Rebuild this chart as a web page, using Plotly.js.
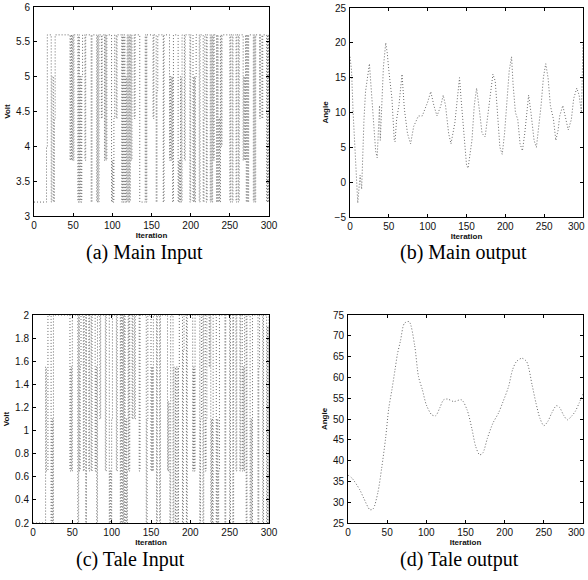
<!DOCTYPE html>
<html>
<head>
<meta charset="utf-8">
<script src="https://cdn.plot.ly/plotly-3.0.1.min.js"></script>
<style>html,body{margin:0;padding:0;background:#fff}#chart{width:588px;height:580px}</style>
</head>
<body>
<div id="chart"></div>
<script>
// (a) Main input: step signal (iteration where level changes, level held until next change)
const mainInIter = [0,16,17,22,23,25,26,27,46,47,48,49,50,51,56,57,58,59,60,61,62,65,66,73,74,80,81,82,83,86,87,90,91,92,93,99,100,101,102,103,105,106,112,113,114,115,116,117,118,119,120,121,122,123,124,125,128,129,135,142,143,144,152,153,156,157,158,165,166,173,174,175,176,177,178,184,185,186,187,188,189,192,193,199,200,203,204,205,206,207,211,212,216,217,218,220,221,225,226,227,228,229,230,233,234,235,236,237,238,239,240,250,251,253,254,258,259,261,262,267,268,269,270,271,272,273,274,280,281,282,283,288,289,291,292,297,298,299,300];
const mainInVolt = [3.2,4.0,5.6,3.2,5.0,3.2,4.4,5.6,3.8,5.6,3.8,5.6,3.8,5.6,3.2,5.6,3.2,5.0,3.2,5.0,5.6,3.8,5.6,3.2,5.6,3.2,5.6,3.2,5.6,4.4,5.6,3.8,5.6,3.8,5.6,3.2,3.8,3.2,4.4,5.6,4.4,5.6,3.2,5.6,3.2,5.6,3.2,5.0,3.2,5.6,3.2,5.6,3.2,5.6,3.8,5.6,4.4,5.6,3.2,5.6,3.2,5.6,4.4,5.6,3.2,4.8,5.6,3.2,5.6,3.8,5.0,3.8,5.0,3.2,5.6,3.2,3.8,3.2,5.0,3.2,5.6,3.8,5.6,3.2,5.6,3.2,5.0,3.2,5.0,5.6,3.2,5.6,3.2,4.4,5.6,3.2,5.6,3.2,5.6,3.2,5.6,3.8,5.6,3.2,5.6,3.2,4.4,3.2,5.6,4.0,5.6,3.2,5.6,3.2,5.6,3.2,5.6,3.2,5.6,3.8,5.0,3.8,5.6,3.2,5.6,3.2,5.6,3.2,5.6,3.2,5.6,4.4,5.6,4.4,5.6,3.2,5.6,3.2,5.6];

// (b) Main output
const mainOutIter = [0,2,4,6,8,10,13,15,18,20,25,28,33,35,38,39,43,46,48,50,54,57,58,60,63,67,70,74,78,82,88,93,100,104,108,112,117,120,123,127,130,135,138,141,143,147,150,152,154,157,160,163,167,170,174,177,180,184,187,190,193,196,199,202,205,208,210,213,216,219,222,225,230,233,237,240,243,246,249,252,255,258,262,265,268,270,274,278,281,285,288,292,295,298,300];
const mainOutAngle = [18,16,10,5,2,-3,1,-1,9,13,17,12,4.5,3.5,11,6,16.5,20,18.5,16,12,6,5.8,9,11,15.5,10.5,7,5.5,8,9.5,9.5,11.5,13,11,9.5,11,12.5,11,7,5.5,8.5,12,15,12,6,2.5,2,3.5,6,11,13.5,10,7,6.5,9,12,15.5,14.5,10,5,4,7,11.5,16,18,14,10,9,5.5,4.5,7,12.5,10,6,5,8,11,15,17,15,11,9,6,7.5,9.5,11,9,7.5,9,12,13.5,12.5,10,20];

// (c) Tale input: step signal
const taleInIter = [0,16,17,19,23,24,25,26,47,48,49,50,57,58,59,60,61,64,65,67,68,71,72,74,75,79,80,81,82,85,86,92,93,97,98,99,100,101,106,107,111,112,113,114,115,116,117,118,119,120,121,122,123,126,127,129,130,135,136,144,145,146,150,151,152,153,157,158,161,162,171,172,173,174,175,178,179,181,182,184,185,186,190,191,192,195,196,203,204,205,206,212,213,214,216,217,219,220,221,224,225,226,227,228,229,233,234,235,236,237,244,245,250,251,254,255,258,259,263,264,266,267,268,269,271,272,276,277,278,279,286,287,288,292,293,297,298,299,300];
const taleInVolt = [0.2,1.55,0.65,2.0,0.2,1.1,0.2,2.0,0.65,1.55,0.65,2.0,0.2,2.0,0.65,1.55,2.0,0.65,2.0,0.2,2.0,0.65,2.0,0.65,2.0,0.65,1.55,0.2,2.0,1.1,2.0,0.65,2.0,0.2,0.65,0.2,1.1,2.0,0.65,2.0,0.2,2.0,0.2,2.0,0.2,2.0,0.2,1.1,0.2,0.65,2.0,0.65,2.0,1.1,2.0,1.1,2.0,0.65,2.0,0.2,1.1,2.0,0.65,1.55,0.65,2.0,0.2,2.0,0.2,2.0,0.65,1.25,0.65,0.2,2.0,0.2,1.55,0.2,1.55,0.2,1.55,2.0,0.2,1.7,2.0,0.2,2.0,0.65,1.55,0.65,2.0,0.2,1.1,2.0,0.2,2.0,0.65,1.1,2.0,1.55,2.0,0.2,1.1,0.2,2.0,0.2,1.1,0.2,0.65,2.0,0.2,2.0,0.2,2.0,0.2,2.0,0.65,2.0,0.65,2.0,0.65,1.55,0.65,2.0,0.2,2.0,0.2,1.1,0.2,2.0,0.2,1.55,2.0,0.2,2.0,0.2,1.9,0.2,2.0];

// (d) Tale output
const taleOutIter = [0,5,15,20,28,32,38,43,48,52,56,60,63,67,72,78,85,90,95,100,107,112,117,122,127,135,145,152,158,163,168,172,178,185,192,198,205,210,215,222,228,235,240,245,250,255,260,266,270,275,280,285,290,295,300];
const taleOutAngle = [36.5,35.8,33,31,28.2,28.4,32.2,38.2,45.4,52.5,57,61.8,65.5,68.8,73,73.4,67.8,60.2,57,53.4,51,50.8,52.6,54.6,54.8,54.2,54.6,52.2,47.8,43.4,41.4,41.8,45.4,49,51.4,54.2,57.8,61.8,63.8,64.6,63.8,58.2,53.8,50.2,48.4,49.4,51.4,53.2,52.8,51,49.8,50.6,51.8,53.8,56];

const captions = ['(a) Main Input', '(b) Main output', '(c) Tale Input', '(d) Tale output'];
const iterTicks = [0,50,100,150,200,250,300];
const iterLabels = ['0','50','100','150','200','250','300'];

const W = 588, H = 580;
const lineStyle = {color:'#6a6a6a', width:1, dash:'1px,2px'};

const traces = [
  {x: mainInIter, y: mainInVolt, xaxis:'x', yaxis:'y', mode:'lines', line:Object.assign({shape:'hv'}, lineStyle)},
  {x: mainOutIter, y: mainOutAngle, xaxis:'x2', yaxis:'y2', mode:'lines', line:Object.assign({}, lineStyle)},
  {x: taleInIter, y: taleInVolt, xaxis:'x3', yaxis:'y3', mode:'lines', line:Object.assign({shape:'hv'}, lineStyle)},
  {x: taleOutIter, y: taleOutAngle, xaxis:'x4', yaxis:'y4', mode:'lines', line:Object.assign({shape:'spline', smoothing:0.8}, lineStyle)}
];

const tickFont = {family:'Liberation Sans, Arial, sans-serif', size:10, color:'#111'};
const titleFont = {family:'Liberation Sans, Arial, sans-serif', size:8, color:'#111'};

// right-hand panels: last label drawn as an annotation so it stays inside the page
function xax(domPx, anchor, dropLast){
  const txt = iterLabels.map((t, i) => (dropLast && i === iterLabels.length - 1) ? '' : t);
  return {domain:[domPx[0]/W, domPx[1]/W], anchor:anchor, range:[0,300], tickvals:iterTicks, ticktext:txt,
    ticks:'inside', ticklen:3, tickcolor:'#000', showline:true, linecolor:'#000', linewidth:1, mirror:'allticks',
    showgrid:false, zeroline:false, tickfont:tickFont, ticklabelstandoff:0, ticklabeloverflow:'allow',
    title:{text:'<b>Iteration</b>', font:titleFont, standoff:0}};
}
function yax(domPx, anchor, range, dtick, title){
  return {domain:[1-domPx[1]/H, 1-domPx[0]/H], anchor:anchor, range:range, dtick:dtick, tick0:0,
    ticks:'inside', ticklen:3, tickcolor:'#000', showline:true, linecolor:'#000', linewidth:1, mirror:'allticks',
    showgrid:false, zeroline:false, tickfont:tickFont, ticklabelstandoff:1, ticklabeloverflow:'allow',
    title:{text:'<b>'+title+'</b>', font:titleFont, standoff:4}};
}

const ann = [
  [144, 253, captions[0]], [463, 253, captions[1]], [130, 559, captions[2]], [459, 559, captions[3]]
].map(a => ({xref:'paper', yref:'paper', x:a[0]/W, y:1-a[1]/H, xanchor:'center', yanchor:'middle',
  text:a[2], showarrow:false, font:{family:'Liberation Serif, Times New Roman, serif', size:20, color:'#000'}}));

[226, 532].forEach(yy => ann.push({xref:'paper', yref:'paper', x:1, y:1-yy/H, xanchor:'right', yanchor:'middle',
  text:iterLabels[iterLabels.length-1], showarrow:false, font:tickFont, xshift:-1}));

const layout = {
  width:W, height:H, margin:{l:0,r:0,t:0,b:0}, showlegend:false,
  paper_bgcolor:'#fff', plot_bgcolor:'#fff',
  xaxis: xax([34,269],'y', false),
  yaxis: yax([7,216],'x',[3,6],0.5,'Volt'),
  xaxis2: xax([350,583],'y2', true),
  yaxis2: yax([8,217],'x2',[-5,25],5,'Angle'),
  xaxis3: xax([33,269],'y3', false),
  yaxis3: Object.assign(yax([315,523],'x3',[0.2,2],0.2,'Volt'), {tick0:0.2}),
  xaxis4: xax([348,583],'y4', true),
  yaxis4: yax([315,523],'x4',[25,75],5,'Angle'),
  annotations: ann
};

Plotly.newPlot('chart', traces, layout, {staticPlot:true, displayModeBar:false});
</script>
</body>
</html>
